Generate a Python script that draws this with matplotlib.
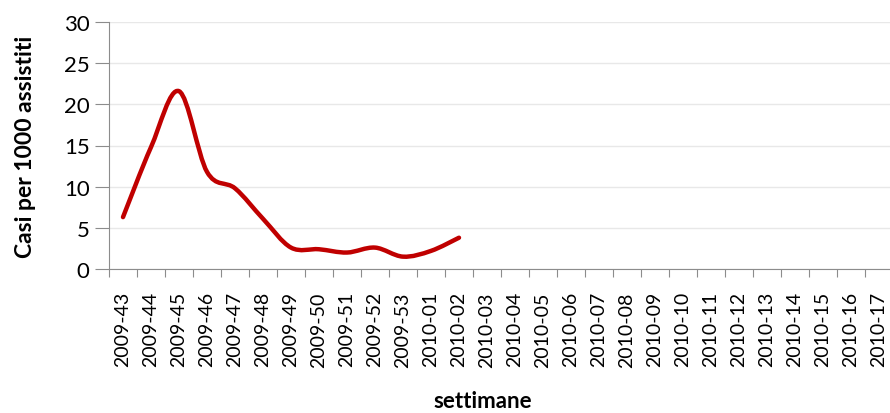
import numpy as np
import matplotlib
matplotlib.use("Agg")
import matplotlib.pyplot as plt
from matplotlib.path import Path
from matplotlib.patches import PathPatch

weeks = ["2009-%d" % w for w in range(43, 54)] + ["2010-%02d" % w for w in range(1, 18)]
values = [6.3, 14.8, 21.6, 11.8, 9.8, 6.1, 2.6, 2.4, 2.0, 2.6, 1.5, 2.2, 3.8]

plt.rcParams['font.family'] = ['Lato', 'DejaVu Sans']

fig = plt.figure(figsize=(8.9, 4.14), dpi=100)
ax = fig.add_axes([109 / 890, 1 - 270 / 414, 784 / 890, (270 - 23) / 414])

# smoothed line (Excel-style Catmull-Rom as cubic Bezier segments)
x = np.arange(len(values), dtype=float)
y = np.array(values, dtype=float)
verts = [(x[0], y[0])]
codes = [Path.MOVETO]
n = len(x)
for i in range(n - 1):
    p0 = (x[max(i - 1, 0)], y[max(i - 1, 0)])
    p1 = (x[i], y[i])
    p2 = (x[i + 1], y[i + 1])
    p3 = (x[min(i + 2, n - 1)], y[min(i + 2, n - 1)])
    c1 = (p1[0] + (p2[0] - p0[0]) / 6, p1[1] + (p2[1] - p0[1]) / 6)
    c2 = (p2[0] - (p3[0] - p1[0]) / 6, p2[1] - (p3[1] - p1[1]) / 6)
    verts += [c1, c2, p2]
    codes += [Path.CURVE4] * 3
ax.add_patch(PathPatch(Path(verts, codes), fill=False, edgecolor='#c00000',
                       lw=3.2, capstyle='round', joinstyle='round', zorder=3))

ax.set_xlim(-0.5, len(weeks) - 0.5)
ax.set_ylim(0, 30)
ax.set_yticks(range(0, 31, 5))
ax.grid(axis='y', color='#e8e8e8', lw=1)
ax.set_axisbelow(True)

ax.set_xticks(np.arange(-0.5, len(weeks), 1))
ax.set_xticklabels([])
ax.set_xticks(np.arange(len(weeks)), minor=True)
ax.set_xticklabels(weeks, minor=True, rotation=90, fontsize=14)
ax.tick_params(axis='x', which='major', length=6, color='#8c8c8c')
ax.tick_params(axis='x', which='minor', length=0, pad=16)
ax.tick_params(axis='y', length=10, color='#8c8c8c', labelsize=16, pad=4)

for s in ['top', 'right']:
    ax.spines[s].set_visible(False)
for s in ['left', 'bottom']:
    ax.spines[s].set_color('#8c8c8c')

ax.set_ylabel("Casi per 1000 assistiti", fontsize=16.5, fontweight='bold', labelpad=20)
fig.text(483 / 890, 1 - 402 / 414, "settimane", fontsize=16, fontweight='bold',
         ha='center', va='center')

fig.savefig("out.png", dpi=100)
